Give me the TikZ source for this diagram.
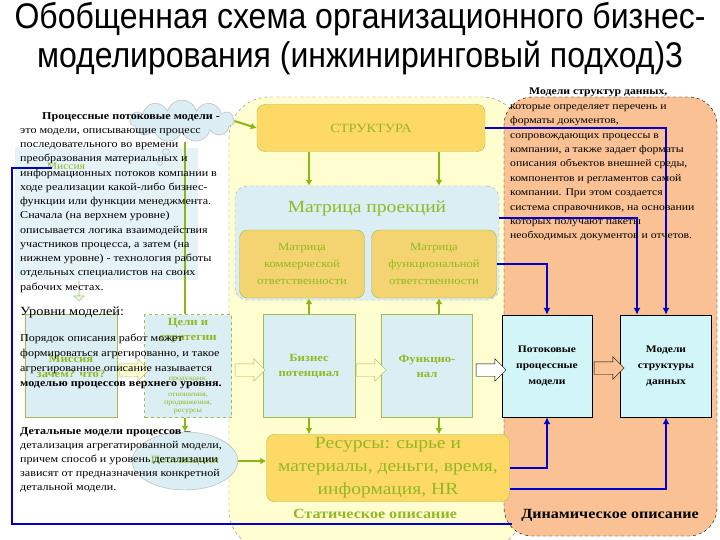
\documentclass[tikz,border=0pt]{standalone}
\usepackage{fontspec}
\setmainfont[FakeStretch=1.15]{Liberation Serif}
\newfontfamily\titlefont{Liberation Sans}
\usetikzlibrary{shapes.symbols,shapes.arrows,shapes.geometric,arrows.meta}

\definecolor{ylwbg}{RGB}{255,254,208}
\definecolor{orng}{RGB}{250,194,148}
\definecolor{gold}{RGB}{255,217,102}
\definecolor{goldd}{RGB}{243,212,112}
\definecolor{oliv}{RGB}{146,184,36}
\definecolor{olivline}{RGB}{160,190,80}
\definecolor{grn}{RGB}{140,182,20}
\definecolor{ltblue}{RGB}{218,238,243}
\definecolor{cyanbx}{RGB}{210,245,248}
\definecolor{darkbl}{RGB}{0,0,200}

\tikzset{
  goldbox/.style={draw=olivline, fill=gold, rounded corners=8pt, text=oliv, align=center},
  bluebox/.style={draw=olivline, fill=ltblue, text=oliv, align=center, font=\bfseries\fontsize{11}{15}\selectfont},
  cyanbox/.style={draw=black, fill=cyanbx, align=center, font=\bfseries\fontsize{10}{16}\selectfont},
  garrow/.style={draw=grn, line width=2pt, -{Latex[length=6pt,width=7pt]}},
  barrow/.style={draw=darkbl, line width=2.5pt, -{Latex[length=7pt,width=7pt]}},
  hollow/.style={single arrow, draw=olivline, fill=ylwbg, minimum height=30pt, inner xsep=0pt, inner ysep=6pt, single arrow head extend=5pt},
  txt/.style={anchor=north west, inner sep=0pt, align=left},
}

\begin{document}
\begin{tikzpicture}[x=1pt,y=-1pt]
\useasboundingbox[fill=white] (0,0) rectangle (720,540);

% title
\node[font=\titlefont\fontsize{33}{38}\selectfont] (title) at (360,40) {\scalebox{0.97}[1.08]{\begin{tabular}{@{}c@{}}Обобщенная схема организационного бизнес-\\[-2pt]моделирования (инжиниринговый подход)3\end{tabular}}};

% static and dynamic areas
\draw[fill=ylwbg, draw=gray, dashed, rounded corners=40pt] (229,97) rectangle (522,550);
\draw[fill=orng, draw=black, dashed, rounded corners=28pt] (504,97) rectangle (717,536);

% left background shapes
\fill[ltblue!70] (15,148) rectangle (198,280);
\node[cloud, cloud puffs=11, aspect=2.4, draw=gray!60, fill=ltblue, minimum width=104pt, minimum height=42pt] (oblako) at (182,121) {};
\draw[gray!60, fill=ltblue] (166,152) circle (3.5pt) (160,163) circle (2.5pt);
\node[text=oliv, font=\fontsize{10}{12}\selectfont] (mistop) at (66,166) {Миссия};
\node[single arrow, shape border rotate=270, draw=olivline, fill=ltblue!70, minimum height=20pt, inner xsep=0pt, inner ysep=9pt, single arrow head extend=5pt] (vniz) at (79,291) {};
\coordinate (celitop) at (185,142);

\node[bluebox, minimum width=92pt, minimum height=103pt] (missiya) at (71,366) {Миссия\\зачем? что?};
\node[draw=olivline, dashed, fill=ltblue, text=oliv, align=center, minimum width=87pt, minimum height=103pt] (celi) at (188,366) {};
\node[text=oliv, align=center, font=\bfseries\fontsize{11}{15}\selectfont, anchor=north] (celit) at (celi.north) {Цели и\\стратегии};
\node[text=oliv, align=center, font=\fontsize{7}{8}\selectfont, anchor=south] (celis) at (celi.south) {продукция,\\\phantom{x}\\отношения,\\продвижения,\\ресурсы};
\node[ellipse, draw=gray!60, fill=ltblue, text=oliv, minimum width=100pt, minimum height=58pt, font=\fontsize{11}{13}\selectfont] (postav) at (185,461) {Поставщики};

% static part
\node[goldbox, minimum width=228pt, minimum height=47pt, font=\fontsize{12.5}{14}\selectfont] (struktura) at (371,128) {СТРУКТУРА};
\node[draw=gray!70, dashed, fill=ltblue, rounded corners=12pt, minimum width=264pt, minimum height=114pt] (matrica) at (367,243) {};
\node[text=oliv, font=\fontsize{17}{20}\selectfont] (mtitle) at (367,208) {Матрица проекций};
\node[goldbox, fill=goldd, minimum width=125pt, minimum height=68pt, font=\fontsize{11}{17}\selectfont] (mkom) at (302,264) {Матрица\\коммерческой\\ответственности};
\node[goldbox, fill=goldd, minimum width=125pt, minimum height=68pt, font=\fontsize{11}{17}\selectfont] (mfun) at (434,264) {Матрица\\функциональной\\ответственности};
\node[bluebox, minimum width=92pt, minimum height=103pt] (biznes) at (309,366) {Бизнес\\потенциал};
\node[bluebox, minimum width=91pt, minimum height=103pt] (funk) at (427,366) {Функцио-\\нал};
\node[goldbox, minimum width=243pt, minimum height=67pt, font=\fontsize{17}{23}\selectfont] (resursy) at (388,468) {Ресурсы: сырье и\\материалы, деньги, время,\\информация, HR};
\node[text=oliv, font=\bfseries\fontsize{14}{16}\selectfont] (statika) at (375,514) {Статическое описание};

% dynamic part
\node[cyanbox, minimum width=90pt, minimum height=102pt] (potok) at (547,366) {Потоковые\\процессные\\модели};
\node[cyanbox, minimum width=91pt, minimum height=102pt] (mstruct) at (666,366) {Модели\\структуры\\данных};
\node[font=\bfseries\fontsize{14}{16}\selectfont] (dinamika) at (610,515) {Динамическое описание};

% green arrows
\draw[garrow] (oblako.east) -- (struktura.west);
\draw[garrow] ([xshift=-62pt]struktura.south) -- ([xshift=-58pt]matrica.north);
\draw[garrow] ([xshift=68pt]struktura.south) -- ([xshift=72pt]matrica.north);
\draw[garrow] (biznes.north) -- (biznes.north |- mkom.south);
\draw[garrow] ([xshift=12pt]funk.north) -- ([xshift=12pt]funk.north |- mfun.south);
\draw[garrow] (biznes.south) -- (biznes.south |- resursy.north);
\draw[garrow] ([xshift=12pt]funk.south) -- ([xshift=12pt]funk.south |- resursy.north);
\draw[garrow] (postav.east) -- (resursy.west |- postav.east);
\draw[grn, line width=2pt] (celitop) -- (celitop |- celi.north);
\draw[garrow] (celitop |- celi.south) -- (postav.north);

% block arrows
\node[hollow] (h1) at (131,370) {};
\node[hollow] (h2) at (247,370) {};
\node[hollow] (h3) at (368,370) {};
\node[hollow, draw=black, fill=white] (h4) at (488,370) {};
\node[hollow, draw=black, fill=orng] (h5) at (606,368) {};

% blue connectors
\draw[barrow] (struktura.east) -| (mstruct.north);
\draw[barrow] ([yshift=25pt]matrica.east) -| ([xshift=-29pt]mstruct.north);
\draw[barrow] (mfun.east) -| (potok.north);
\draw[barrow] (resursy.east) -| (potok.south);
\draw[barrow] ([yshift=-21pt]resursy.east) -| (mstruct.south);
\draw[darkbl, line width=2.5pt] (52,168) -- (12,168) -- (12,524) -- (512,524);

% texts
\node[txt, font=\fontsize{10.5}{14.25}\selectfont] (ptext) at (20,112) {\hspace*{22pt}\textbf{Процессные потоковые модели -}\\это модели, описывающие процесс\\последовательного во времени\\преобразования материальных и\\информационных потоков компании в\\ходе реализации какой-либо бизнес-\\функции или функции менеджмента.\\Сначала (на верхнем уровне)\\описывается логика взаимодействия\\участников процесса, а затем (на\\нижнем уровне) - технология работы\\отдельных специалистов на своих\\рабочих местах.};
\node[txt, font=\fontsize{12.5}{15}\selectfont] (urovni) at (20,307) {Уровни моделей:};
\node[txt, font=\fontsize{10.5}{15}\selectfont] (poryadok) at (20,334) {Порядок описания работ может\\формироваться агрегированно, и такое\\агрегированное описание называется\\\textbf{моделью процессов верхнего уровня.}};
\node[txt, font=\fontsize{10.5}{14}\selectfont] (detal) at (20,427) {\textbf{Детальные модели процессов} –\\детализация агрегатированной модели,\\причем способ и уровень детализации\\зависят от предназначения конкретной\\детальной модели.};
\node[txt, font=\fontsize{10.2}{14.4}\selectfont] (modtext) at (510,88) {\hspace*{19pt}\textbf{Модели структур данных,}\\которые определяет перечень и\\форматы документов,\\сопровождающих процессы в\\компании, а также задает форматы\\описания объектов внешней среды,\\компонентов и регламентов самой\\компании. При этом создается\\система справочников, на основании\\которых получают пакеты\\необходимых документов и отчетов.};
\end{tikzpicture}
\end{document}
